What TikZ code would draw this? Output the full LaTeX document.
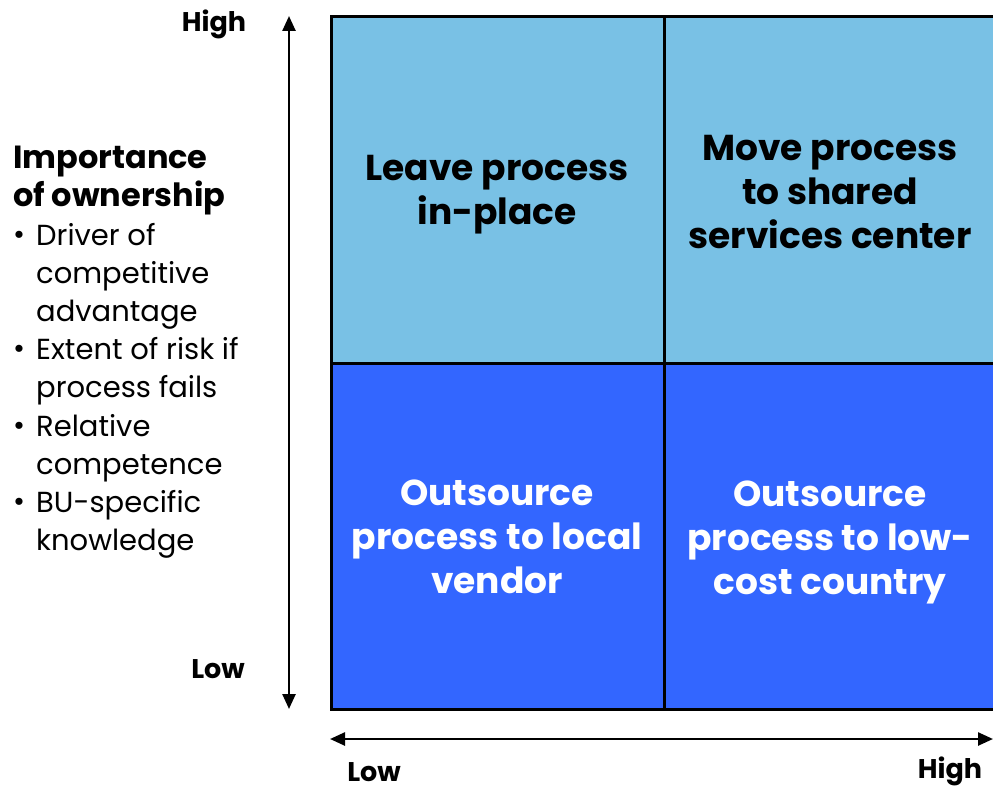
\documentclass[tikz,border=0pt]{standalone}
\usepackage{fontspec}
\setmainfont{Poppins}
\usetikzlibrary{arrows.meta}
\definecolor{lightq}{HTML}{79C1E5}
\definecolor{darkq}{HTML}{3366FF}
\tikzset{
  quadtext/.style={align=center, font=\fontsize{36}{44}\selectfont\bfseries},
  axislabel/.style={font=\fontsize{27}{30}\selectfont\bfseries},
  axisarrow/.style={line width=2.5pt, {Triangle[length=15pt,width=13pt]}-{Triangle[length=15pt,width=13pt]}},
  gridline/.style={line width=3pt}
}
\newcommand{\bul}{\makebox[23pt][l]{\raisebox{1pt}{\textbullet}}}
\newcommand{\ind}{\hspace*{23pt}}
\begin{document}
\begin{tikzpicture}[x=1pt,y=-1pt]
\useasboundingbox (0,0) rectangle (993,789);
% quadrants
\fill[lightq] (331,17) rectangle (998,363);
\fill[darkq] (331,363) rectangle (998,709);
\draw[gridline] (331,17) rectangle (998,709);
\draw[gridline] (664,17) -- (664,709);
\draw[gridline] (331,363) -- (998,363);
% quadrant captions
\node[quadtext] (q1) at (497,195) {Leave process\\in-place};
\node[quadtext] (q2) at (830,192) {Move process\\to shared\\services center};
\node[quadtext, text=white] (q3) at (497,537) {Outsource\\process to local\\vendor};
\node[quadtext, text=white] (q4) at (830,542) {Outsource\\process to low-\\cost country};
% axes
\coordinate (vtop) at (289,16);
\coordinate (vbot) at (289,709);
\coordinate (hleft) at (330,739);
\coordinate (hright) at (993,739);
\draw[axisarrow] (vtop) -- (vbot);
\draw[axisarrow] (hleft) -- (hright);
\node[axislabel] (yhigh) at (214,24) {High};
\node[axislabel] (ylow) at (218,669) {Low};
\node[axislabel] (xlow) at (374,772) {Low};
\node[axislabel] (xhigh) at (950,771) {High};
% y-axis description
\node[anchor=north west, align=left, inner sep=0pt, font=\fontsize{29}{38.2}\selectfont] (desc) at (13,146)
{{\fontsize{32}{38.2}\selectfont\bfseries Importance}\\
{\fontsize{32}{38.2}\selectfont\bfseries of ownership}\\
\bul Driver of\\
\ind competitive\\
\ind advantage\\
\bul Extent of risk if\\
\ind process fails\\
\bul Relative\\
\ind competence\\
\bul BU-specific\\
\ind knowledge};
\end{tikzpicture}
\end{document}
